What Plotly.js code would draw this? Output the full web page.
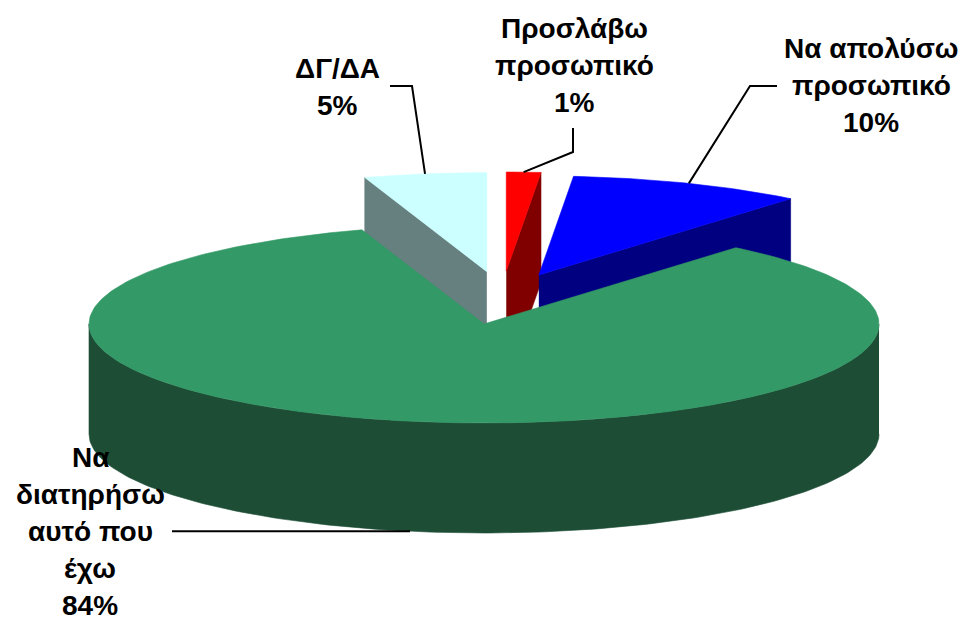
<!DOCTYPE html>
<html>
<head>
<meta charset="utf-8">
<script src="https://cdn.plot.ly/plotly-3.0.1.min.js"></script>
<style>html,body{margin:0;padding:0;background:#fff;}#chart{width:968px;height:622px;}</style>
</head>
<body>
<div id="chart"></div>
<script>
// ---- data ----
const categories = ["Προσλάβω\nπροσωπικό", "Να απολύσω\nπροσωπικό", "Να\nδιατηρήσω\nαυτό που\nέχω", "ΔΓ/ΔΑ"];
const values = [1.4, 9.6, 84, 5];

// ---- styles ----
const topColors  = ["#FF0000", "#0000FF", "#339966", "#CCFFFF"];
const sideColors = ["#800000", "#000080", "#1D4D35", "#668080"];
const exploded   = [true, true, false, true];

// ---- geometry of the tilted pie ----
const cx = 484, cy = 324, rx = 395, ry = 99, depth = 110;
const exA = 97, exB = 53, exD = 18;
const rad = d => d * Math.PI / 180;

const total = values.reduce((a, b) => a + b, 0);
const slices = [];
let acc = 0;
values.forEach((v, i) => {
  const a = acc / total * 360, b = (acc + v) / total * 360;
  acc += v;
  const m = (a + b) / 2;
  const off = exploded[i] ? [exA * Math.sin(rad(m)) + exD, -exB * Math.cos(rad(m))] : [0, 0];
  slices.push({i, a, b, m, off});
});

function pt(th, r, z, off) {
  return [cx + off[0] + rx * r * Math.sin(rad(th)), cy + off[1] - ry * r * Math.cos(rad(th)) + depth * z];
}
function arc(a, b, z, off) {
  const n = Math.max(2, Math.ceil(Math.abs(b - a)));
  const out = [];
  for (let k = 0; k <= n; k++) out.push(pt(a + (b - a) * k / n, 1, z, off));
  return out;
}
function poly(points, color) {
  return {
    type: 'scatter', mode: 'lines', x: points.map(p => p[0]), y: points.map(p => p[1]),
    fill: 'toself', fillcolor: color, line: {color: color, width: 0.6},
    hoverinfo: 'skip', showlegend: false
  };
}

const traces = [];
// draw back (exploded) slices first, then the front slice
const order = slices.slice().sort((s, t) => (exploded[t.i] ? 1 : 0) - (exploded[s.i] ? 1 : 0));
order.forEach(s => {
  const {a, b, off, i} = s;
  if (Math.sin(rad(a)) < -1e-6) {
    traces.push(poly([pt(a, 0, 0, off), pt(a, 1, 0, off), pt(a, 1, 1, off), pt(a, 0, 1, off)], sideColors[i]));
  }
  if (Math.sin(rad(b)) > 1e-6) {
    traces.push(poly([pt(b, 0, 0, off), pt(b, 1, 0, off), pt(b, 1, 1, off), pt(b, 0, 1, off)], sideColors[i]));
  }
  const lo = Math.max(a, 90), hi = Math.min(b, 270);
  if (hi > lo) {
    traces.push(poly(arc(lo, hi, 0, off).concat(arc(hi, lo, 1, off)), sideColors[i]));
  }
  traces.push(poly([pt(a, 0, 0, off)].concat(arc(a, b, 0, off), [pt(a, 0, 0, off)]), topColors[i]));
});

// ---- labels & leader lines ----
const labelPos = [
  {x: 574, y: 28, elbow: [[573, 128], [573, 152]], z: 0},
  {x: 871, y: 48, elbow: [[777, 86], [750, 86]], z: 0},
  {x: 90, y: 457, elbow: null, z: 1},
  {x: 337, y: 68, elbow: [[390, 86], [412, 86]], z: 0}
];
const lineStep = 37;
const annotations = [];
slices.forEach(s => {
  const lp = labelPos[s.i];
  const lines = categories[s.i].split("\n").concat([Math.round(values[s.i] / total * 100) + "%"]);
  lines.forEach((t, k) => {
    annotations.push({
      xref: 'x', yref: 'y', x: lp.x, y: lp.y + k * lineStep, text: '<b>' + t + '</b>',
      showarrow: false, xanchor: 'center', yanchor: 'middle',
      font: {family: 'Liberation Sans, Arial, sans-serif', size: 28, color: '#000'}
    });
  });
  const end = pt(s.m, 1, lp.z, s.off);
  const path = lp.elbow ? lp.elbow.concat([end]) : [[172, end[1]], end];
  traces.push({
    type: 'scatter', mode: 'lines', x: path.map(p => p[0]), y: path.map(p => p[1]),
    line: {color: '#000', width: 2}, hoverinfo: 'skip', showlegend: false
  });
});

const layout = {
  width: 968, height: 622,
  margin: {l: 0, r: 0, t: 0, b: 0},
  paper_bgcolor: '#fff', plot_bgcolor: '#fff',
  xaxis: {range: [0, 968], visible: false, fixedrange: true},
  yaxis: {range: [622, 0], visible: false, fixedrange: true},
  showlegend: false,
  annotations: annotations
};
Plotly.newPlot('chart', traces, layout, {staticPlot: true, displayModeBar: false});
</script>
</body>
</html>
